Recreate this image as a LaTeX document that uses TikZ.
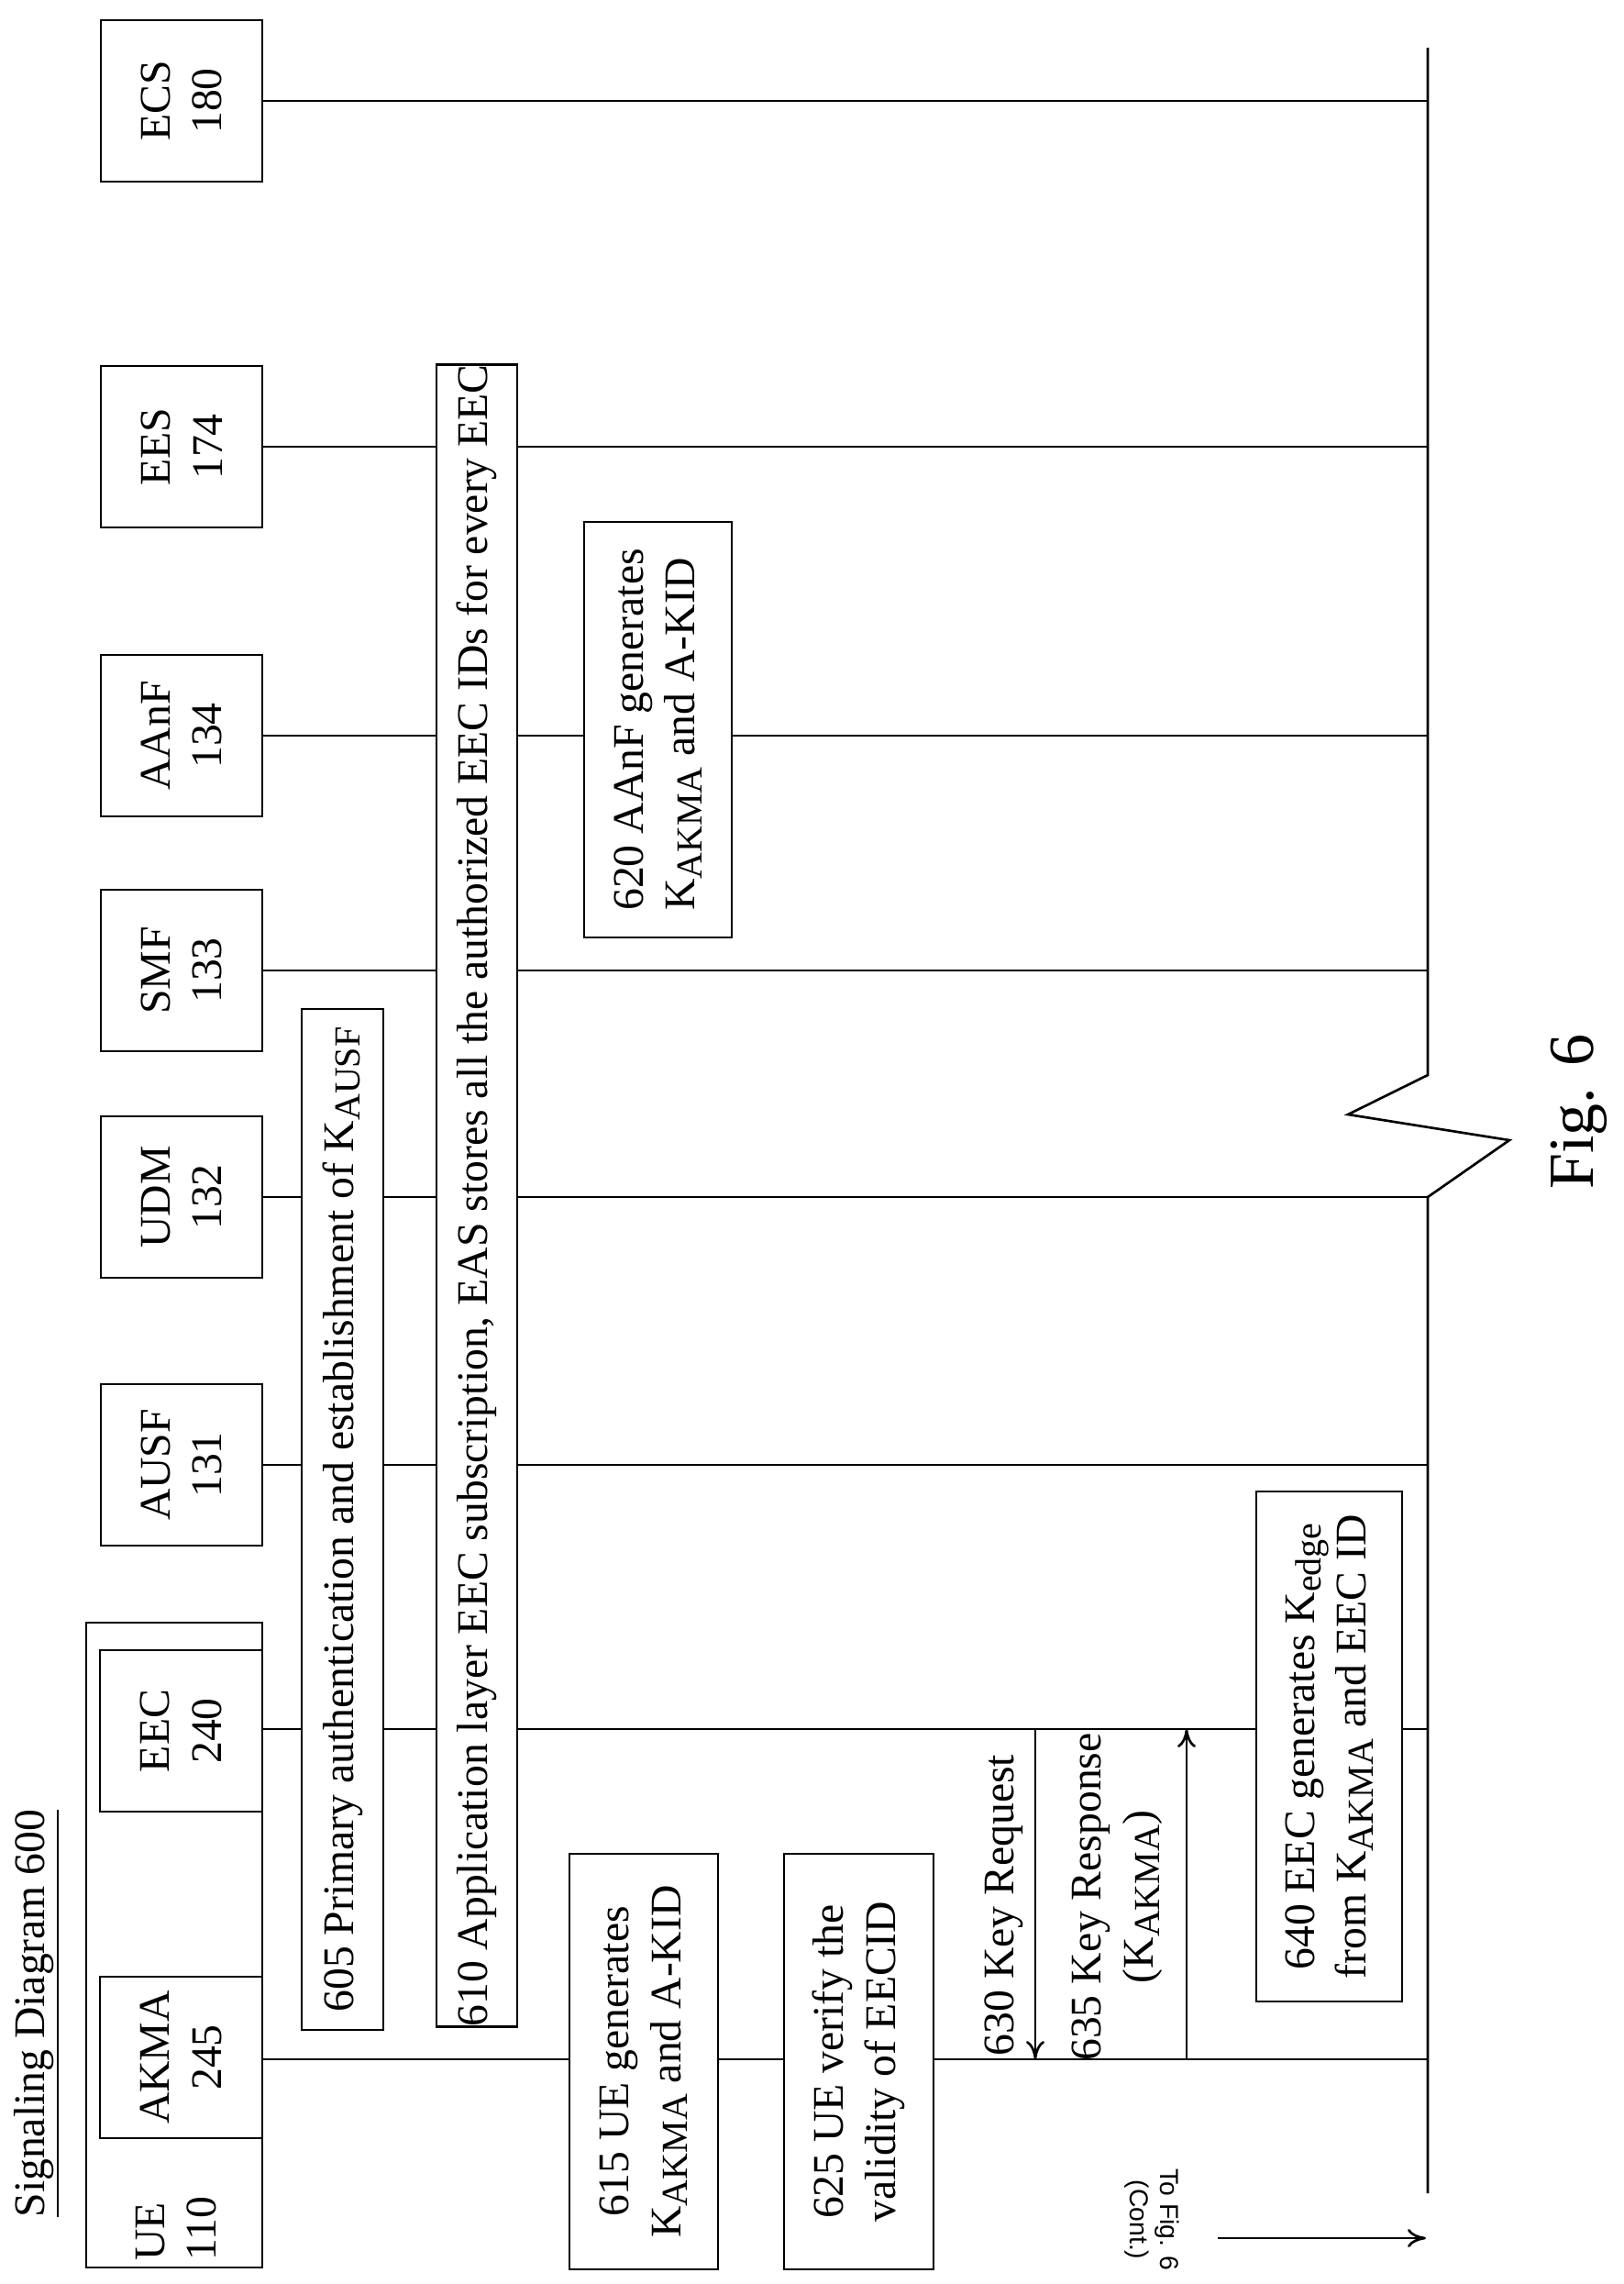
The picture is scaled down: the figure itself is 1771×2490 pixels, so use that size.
\documentclass[tikz,border=0pt]{standalone}
\usepackage{fontspec}
\setmainfont{Liberation Serif}
\newfontfamily\lsans{Liberation Sans}
\usetikzlibrary{arrows.meta}
\newcommand{\sbs}[1]{\raisebox{-0.35ex}{\fontsize{12}{12}\selectfont #1}}
\begin{document}
\begin{tikzpicture}[x=0.3pt,y=-0.3pt,
  every node/.style={font=\fontsize{14.3}{17}\selectfont},
  bx/.style={draw,line width=0.8pt,fill=white,rotate=90,inner sep=0pt,align=center},
  hd/.style={bx,minimum width=52.8pt,minimum height=52.8pt},
  ln/.style={line width=0.8pt},
  ar/.style={ln,-{To[length=6pt,width=6pt]}}]
\useasboundingbox (0,0) rectangle (1771,2490);
\coordinate (brk) at (1557,0);
% lifelines first
\coordinate (ecsR) at (286,110);
\coordinate (eesR) at (286,487);
\coordinate (aanfR) at (286,802);
\coordinate (smfR) at (286,1058);
\coordinate (udmR) at (286,1305);
\coordinate (ausfR) at (286,1597);
\coordinate (eecR) at (286,1885);
\coordinate (akmaR) at (286,2245);
\foreach \c in {ecsR,eesR,aanfR,smfR,udmR,ausfR,eecR,akmaR}
  \draw[ln] (\c) -- (\c -| brk);
% break line with zigzag
\coordinate (b0) at (1557,52);
\coordinate (b1) at (1557,1172);
\coordinate (b2) at (1470,1215);
\coordinate (b3) at (1646,1243);
\coordinate (b4) at (1557,1305);
\coordinate (b5) at (1557,2391);
\draw[ln] (b0) -- (b1) -- (b2) -- (b3) -- (b4) -- (b5);
% header boxes
\node[hd] (ecs) at (198,110) {ECS\\180};
\node[hd] (ees) at (198,487) {EES\\174};
\node[hd] (aanf) at (198,802) {AAnF\\134};
\node[hd] (smf) at (198,1058) {SMF\\133};
\node[hd] (udm) at (198,1305) {UDM\\132};
\node[hd] (ausf) at (198,1597) {AUSF\\131};
\node[draw,line width=0.8pt,rotate=90,minimum width=210.9pt,minimum height=57.6pt,inner sep=0pt] (ue) at (190,2120.5) {};
\node[rotate=90,align=left,inner sep=0pt] (uet) at (192,2430) {UE\\110};
\node[hd,minimum height=53.1pt] (eec) at (197.5,1887) {EEC\\240};
\node[hd,minimum height=53.1pt] (akma) at (197.5,2243) {AKMA\\245};
% title
\node[rotate=90,inner sep=0pt] (title) at (40,2195) {\underline{Signaling Diagram 600}};
% steps
\node[bx,minimum width=333.9pt,minimum height=26.7pt] (s605) at (373.5,1656.5) {605 Primary authentication and establishment of K\sbs{AUSF}};
\node[bx,minimum width=543.3pt,minimum height=26.4pt] (s610) at (520,1303.5) {610 Application layer EEC subscription, EAS stores all the authorized EEC IDs for every EEC};
\node[bx,minimum width=135.9pt,minimum height=48.3pt,align=left] (s620) at (717.5,795.5) {620 AAnF generates\\K\sbs{AKMA} and A-KID};
\node[bx,minimum width=135.9pt,minimum height=48.6pt] (s615) at (702,2247.5) {615 UE generates\\K\sbs{AKMA} and A-KID};
\node[bx,minimum width=135.9pt,minimum height=48.9pt] (s625) at (936.5,2247.5) {625 UE verify the\\validity of EECID};
\node[bx,minimum width=166.8pt,minimum height=47.7pt] (s640) at (1449.5,1904) {640 EEC generates K\sbs{edge}\\from K\sbs{AKMA} and EEC ID};
% messages
\coordinate (m630a) at (1129,1885);
\coordinate (m630b) at (1129,2245);
\draw[ar] (m630a) -- (m630b);
\node[rotate=90,inner sep=0pt] (l630) at (1095,2077) {630 Key Request};
\coordinate (m635a) at (1294,2245);
\coordinate (m635b) at (1294,1885);
\draw[ar] (m635a) -- (m635b);
\node[rotate=90,inner sep=0pt,align=center] (l635) at (1218,2068) {635 Key Response\\(K\sbs{AKMA})};
% continuation
\coordinate (c0) at (1328,2440);
\coordinate (c1) at (1555,2440);
\draw[ar] (c0) -- (c1);
\node[rotate=-90,inner sep=0pt,align=center,font=\lsans\fontsize{8.5}{10}\selectfont] (cont) at (1256,2420) {To Fig. 6\\(Cont.)};
\node[rotate=90,inner sep=0pt,font=\fontsize{21}{24}\selectfont] (fig) at (1722,1212) {Fig. 6};
\end{tikzpicture}
\end{document}
